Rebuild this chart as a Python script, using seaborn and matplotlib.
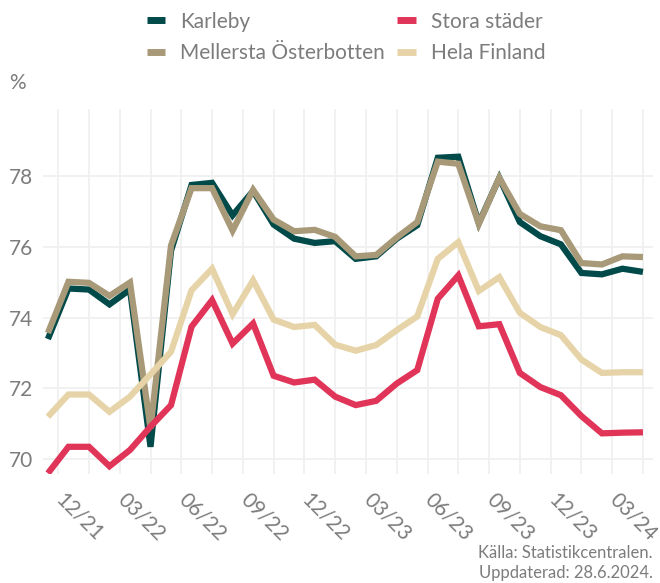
import numpy as np
import pandas as pd
import matplotlib
matplotlib.use("Agg")
import matplotlib.pyplot as plt
import matplotlib.transforms as mtransforms
from matplotlib.lines import Line2D
import seaborn as sns

# ---- data ----
months = list(range(30))  # Nov 2021 .. Apr 2024 (mid-month points)
karleby = [73.40, 74.83, 74.80, 74.38, 74.80, 70.35, 75.90, 77.76, 77.82, 76.90,
           77.59, 76.64, 76.24, 76.12, 76.17, 75.67, 75.74, 76.24, 76.62, 78.53,
           78.56, 76.68, 77.96, 76.71, 76.31, 76.08, 75.27, 75.23, 75.39, 75.30]
mellersta = [73.57, 75.02, 74.99, 74.62, 75.00, 70.87, 76.05, 77.67, 77.67, 76.47,
             77.62, 76.78, 76.45, 76.49, 76.29, 75.74, 75.78, 76.27, 76.71, 78.42,
             78.36, 76.66, 77.96, 76.94, 76.59, 76.48, 75.55, 75.51, 75.74, 75.72]
stora = [69.60, 70.35, 70.35, 69.80, 70.26, 70.92, 71.53, 73.75, 74.50, 73.27,
         73.84, 72.36, 72.17, 72.25, 71.77, 71.53, 71.65, 72.14, 72.52, 74.54,
         75.20, 73.76, 73.82, 72.44, 72.04, 71.81, 71.22, 70.73, 70.75, 70.76]
hela = [71.20, 71.83, 71.83, 71.34, 71.77, 72.40, 73.04, 74.78, 75.39, 74.10,
        75.06, 73.95, 73.74, 73.80, 73.24, 73.07, 73.23, 73.65, 74.04, 75.67,
        76.14, 74.76, 75.15, 74.14, 73.74, 73.51, 72.82, 72.44, 72.46, 72.46]
series_names = ["Karleby", "Mellersta Österbotten", "Stora städer", "Hela Finland"]
colors = {"Karleby": "#004a4a", "Mellersta Österbotten": "#a89a78",
          "Stora städer": "#e03458", "Hela Finland": "#e6d4a8"}
tick_labels = ["12/21", "03/22", "06/22", "09/22", "12/22", "03/23",
               "06/23", "09/23", "12/23", "03/24"]
y_ticks = [70, 72, 74, 76, 78]

df = pd.concat([
    pd.DataFrame({"m": months, "v": karleby, "s": "Karleby"}),
    pd.DataFrame({"m": months, "v": mellersta, "s": "Mellersta Österbotten"}),
    pd.DataFrame({"m": months, "v": hela, "s": "Hela Finland"}),
    pd.DataFrame({"m": months, "v": stora, "s": "Stora städer"}),
])

sns.set_theme(style="white")
plt.rcParams["font.family"] = ["Lato", "DejaVu Sans"]
plt.rcParams["font.weight"] = "normal"
gray = "#7c7c7c"
fs = 15

fig = plt.figure(figsize=(6.6, 5.83), dpi=100)
ax = fig.add_axes([43/660, 1-474/583, 610/660, 365/583])

lw = 4.5
sns.lineplot(data=df, x="m", y="v", hue="s",
             hue_order=["Karleby", "Mellersta Österbotten", "Hela Finland", "Stora städer"],
             palette=colors, linewidth=lw, legend=False, ax=ax, zorder=3)
for l in ax.lines:
    l.set_solid_joinstyle("miter")
    l.set_solid_capstyle("butt")

ax.set_xlim(-0.24, 29.49)
ax.set_ylim(69.58, 79.91)
major = [0.5 + 3*k for k in range(len(tick_labels))]
minor = [2 + 3*k for k in range(len(tick_labels))]
ax.set_xticks(major)
ax.set_xticks(minor, minor=True)
ax.tick_params(axis="x", which="both", length=0, pad=11)
ax.tick_params(axis="y", length=0, pad=7)
ax.set_xticklabels(tick_labels, rotation=-45, ha="left", va="top",
                   rotation_mode="anchor", fontsize=fs, color=gray)
ax.set_yticks(y_ticks)
ax.set_yticklabels([str(t) for t in y_ticks], fontsize=fs, color=gray)
offset = mtransforms.ScaledTranslation(8/100, 0, fig.dpi_scale_trans)
for lab in ax.get_xticklabels():
    lab.set_transform(lab.get_transform() + offset)
ax.grid(True, which="both", axis="x", color="#f0f0f0", linewidth=1.3)
ax.grid(True, which="major", axis="y", color="#f0f0f0", linewidth=1.3)
ax.set_axisbelow(True)
for sp in ax.spines.values():
    sp.set_visible(False)
ax.set_xlabel("")
ax.set_ylabel("")

fig.text(9/660, 1-83/583, "%", fontsize=fs, color=gray, va="center", ha="left")

order = ["Karleby", "Mellersta Österbotten", "Stora städer", "Hela Finland"]
handles = [Line2D([0], [0], color=colors[n], lw=5, solid_capstyle="butt") for n in order]
leg = fig.legend(handles, order, loc="upper center", bbox_to_anchor=(346/660, 1+7/583),
                 ncol=2, frameon=False, fontsize=fs, handlelength=0.9,
                 handletextpad=0.7, columnspacing=0.6, labelspacing=0.55)
for t in leg.get_texts():
    t.set_color(gray)

fig.text(653/660, 1-553/583, "Källa: Statistikcentralen.", fontsize=12, color=gray,
         ha="right", va="center")
fig.text(653/660, 1-573/583, "Uppdaterad: 28.6.2024.", fontsize=12, color=gray,
         ha="right", va="center")

fig.savefig("out.png", dpi=100)
